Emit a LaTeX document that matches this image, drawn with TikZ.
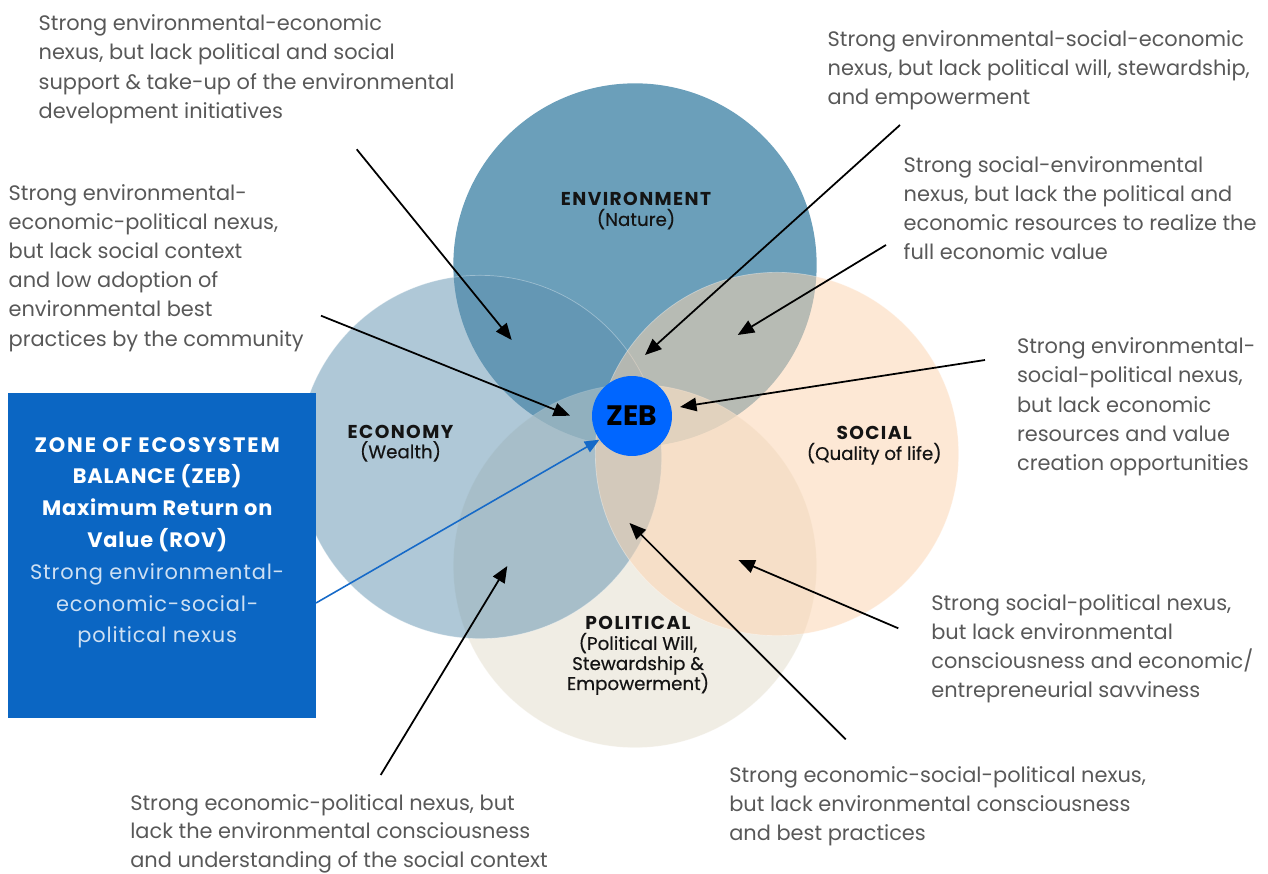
\documentclass[tikz,border=0pt]{standalone}
\usepackage{fontspec}
\setmainfont{Poppins}
\newfontfamily\capsfont{Poppins}[LetterSpace=7.5]
\newfontfamily\zonecaps{Poppins}[LetterSpace=9]
\newfontfamily\zonemixed{Poppins}[LetterSpace=4]
\newfontfamily\medfont{Poppins}[FakeBold=0.5]
\usetikzlibrary{arrows.meta}

\definecolor{envc}{RGB}{107,159,186}
\definecolor{ecoc}{RGB}{95,145,175}
\definecolor{polc}{RGB}{234,229,216}
\definecolor{socc}{RGB}{252,212,176}
\definecolor{txtgrey}{RGB}{88,88,88}
\definecolor{lblink}{RGB}{20,20,20}
\definecolor{boxblue}{RGB}{11,102,195}
\definecolor{zebblue}{RGB}{0,102,255}
\definecolor{linkblue}{RGB}{22,106,200}
\definecolor{boxsub}{RGB}{206,224,243}

\newcommand\descfont{\fontsize{11.9}{16.6}\selectfont}
\newcommand\lastdescfont{\fontsize{11.9}{16.3}\selectfont}
\newcommand\lblfont{\fontsize{10.4}{11.4}\selectfont\lineskiplimit=-20pt\lineskip=0pt}
\newcommand\zonefont{\fontsize{11.9}{18.1}\selectfont}
\newcommand\cirtitle[1]{{\capsfont\bfseries\fontsize{10.6}{11.4}\selectfont #1}}
\newcommand\subt[1]{{\medfont #1}}

\begin{document}
\begin{tikzpicture}[x=0.02cm,y=-0.02cm,
  ring/.style={circle,minimum size=7.268cm,inner sep=0pt,outer sep=0pt},
  seam/.style={draw=white,draw opacity=0.35,line width=0.4pt},
  desc/.style={anchor=north west,align=left,inner sep=0pt,text=txtgrey,font=\descfont},
  title/.style={anchor=north,align=center,inner sep=0pt,text=lblink,font=\lblfont},
  pointer/.style={draw=black,line width=1pt,-{Triangle[length=0.33cm,width=0.27cm]}},
  bluepointer/.style={draw=linkblue,line width=0.9pt,-{Triangle[length=0.29cm,width=0.24cm]}},
]
\useasboundingbox (0,0) rectangle (1268,874);

% the four overlapping spheres
\node[ring,fill=envc] (env) at (635,265) {};
\node[ring,fill=polc,fill opacity=0.7,seam] (pol) at (635,566) {};
\node[ring,fill=ecoc,fill opacity=0.5,seam] (eco) at (480,457) {};
\node[ring,fill=socc,fill opacity=0.53,seam] (soc) at (777,454) {};

% sphere titles
\node[title] (envt) at (636,192.3) {\cirtitle{ENVIRONMENT}\\\subt{(Nature)}};
\node[title] (ecot) at (400.5,424.6) {\cirtitle{ECONOMY}\\\subt{(Wealth)}};
\node[title] (soct) at (874.2,426.3) {\cirtitle{SOCIAL}\\\subt{(Quality of life)}};
\node[title] (polt) at (638,616.3) {\cirtitle{POLITICAL}\\\subt{(Political Will,}\\\subt{Stewardship \&}\\\subt{Empowerment)}};

% zone of ecosystem balance
\node[circle,fill=zebblue,minimum size=1.6cm,inner sep=0pt,text=black,
      font=\fontsize{16}{17}\selectfont\bfseries] (zeb) at (632,416) {ZEB};

\node[fill=boxblue,anchor=north west,minimum width=6.16cm,minimum height=6.51cm,inner sep=0pt] (zone) at (8,392.7) {};
\node[anchor=north,align=center,inner sep=0pt,text=white,font=\zonefont] (zonetxt) at (157.2,436.8)
  {{\zonecaps\bfseries ZONE OF ECOSYSTEM}\\{\zonemixed\bfseries BALANCE (ZEB)}\\{\zonemixed\bfseries Maximum Return on}\\{\zonemixed\bfseries Value (ROV)}\\
   {\zonemixed\color{boxsub}Strong environmental-}\\{\zonemixed\color{boxsub}economic-social-}\\{\zonemixed\color{boxsub}political nexus}};

% explanatory notes
\node[desc] (nEE) at (38.3,14.5) {Strong environmental-economic\\nexus, but lack political and social\\support \& take-up of the environmental\\development initiatives};
\node[desc] (nEEP) at (8.3,184) {Strong environmental-\\economic-political nexus,\\but lack social context\\and low adoption of\\environmental best\\practices by the community};
\node[desc] (nESE) at (827.3,30) {Strong environmental-social-economic\\nexus, but lack political will, stewardship,\\and empowerment};
\node[desc] (nSE) at (903.3,156) {Strong social-environmental\\nexus, but lack the political and\\economic resources to realize the\\full economic value};
\node[desc] (nESP) at (1016.7,337.5) {Strong environmental-\\social-political nexus,\\but lack economic\\resources and value\\creation opportunities};
\node[desc] (nSP) at (931,594) {Strong social-political nexus,\\but lack environmental\\consciousness and economic/\\entrepreneurial savviness};
\node[desc] (nESoP) at (729,766) {Strong economic-social-political nexus,\\but lack environmental consciousness\\and best practices};
\node[desc,font=\lastdescfont] (nEP) at (130,794) {Strong economic-political nexus, but\\lack the environmental consciousness\\and understanding of the social context};

% pointer ends
\coordinate (fEE) at (356.7,149.3);   \coordinate (tEE) at (511.7,340);
\coordinate (fEEP) at (321,315.7);    \coordinate (tEEP) at (570,415.7);
\coordinate (fESE) at (900,125);      \coordinate (tESE) at (645,355);
\coordinate (fSE) at (886,245);       \coordinate (tSE) at (737.7,335);
\coordinate (fESP) at (985,360);      \coordinate (tESP) at (680,407);
\coordinate (fSP) at (898.3,628.3);   \coordinate (tSP) at (738.3,560);
\coordinate (fESoP) at (845.7,739.3); \coordinate (tESoP) at (629.5,523);
\coordinate (fEP) at (380.7,775);     \coordinate (tEP) at (507.3,566);
\coordinate (zoneout) at (316,603);

\draw[pointer] (fEE) -- (tEE);
\draw[pointer] (fEEP) -- (tEEP);
\draw[pointer] (fESE) -- (tESE);
\draw[pointer] (fSE) -- (tSE);
\draw[pointer] (fESP) -- (tESP);
\draw[pointer] (fSP) -- (tSP);
\draw[pointer] (fESoP) -- (tESoP);
\draw[pointer] (fEP) -- (tEP);
\draw[bluepointer] (zoneout) -- (zeb.216);
\end{tikzpicture}
\end{document}
